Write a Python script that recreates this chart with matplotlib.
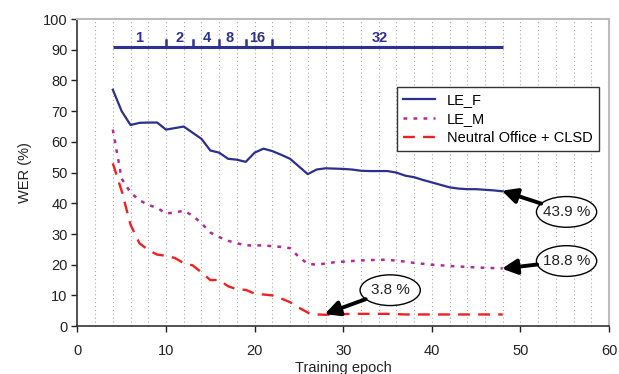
import matplotlib
matplotlib.use("Agg")
import matplotlib.pyplot as plt
from matplotlib.patches import Ellipse
import numpy as np

plt.rcParams['font.family'] = ['Liberation Sans', 'DejaVu Sans']

epochs = list(range(4, 49))
le_f = [77, 70, 65.5, 66.2, 66.3, 66.3, 64, 64.5, 65, 63, 61, 57.2, 56.5, 54.5, 54.2,
        53.5, 56.5, 57.8, 57, 55.8, 54.5, 52, 49.5, 51, 51.4, 51.3, 51.2, 51, 50.6,
        50.5, 50.5, 50.5, 50, 49, 48.5, 47.6, 46.8, 46, 45.2, 44.8, 44.6, 44.6, 44.4,
        44.2, 43.9]
le_m = [64, 48, 43.5, 41, 39.5, 38.5, 36.7, 37, 37.6, 36, 33.5, 30.5, 29, 27.8, 27,
        26.3, 26.3, 26.3, 26, 25.8, 25.4, 22.5, 20.3, 20, 20.4, 20.8, 21, 21.2, 21.4,
        21.5, 21.6, 21.6, 21.3, 21, 20.6, 20.3, 20, 19.8, 19.6, 19.4, 19.3, 19.1, 19,
        18.9, 18.8]
neutral = [53, 44, 33, 27, 24.8, 23.3, 22.9, 22.2, 20.5, 19.8, 17.5, 15, 15, 13, 12,
           11.8, 10.6, 10.3, 10, 9, 7.8, 6, 4.4, 3.8, 3.7, 3.8, 3.9, 4, 4, 4, 4, 4,
           3.9, 3.8, 3.8, 3.8, 3.8, 3.8, 3.8, 3.8, 3.8, 3.8, 3.8, 3.8, 3.8]

series_labels = ["LE_F", "LE_M", "Neutral Office + CLSD"]

# top bar: batch-size stages
bar_start, bar_end, bar_level = 4, 48, 91
stage_ticks = [10, 13, 16, 19, 22]
stage_label_x = [7, 11.5, 14.6, 17.2, 20.3, 34.1]
stage_labels = ["1", "2", "4", "8", "16", "32"]

# annotations: (text, text_x, text_y, point_x, point_y)
annotations = [("43.9 %", 55.2, 37.2, 47.9, 44.1),
               ("18.8 %", 55.2, 21.2, 47.9, 18.7),
               ("3.8 %", 35.3, 11.7, 27.9, 3.9)]

blue = "#2B2F8F"
magenta = "#B5289A"
red = "#F02020"

fig = plt.figure(figsize=(6.19, 3.74), dpi=100)
ax = fig.add_axes([0.125, 0.128, 0.859, 0.821])

# grid lines (vertical dotted every 2)
for gx in np.arange(2, 60, 2):
    ax.axvline(gx, color="#AAAAAA", lw=0.8, ls=(0, (1, 2.5)), zorder=0)

ax.plot(epochs, le_f, color=blue, lw=1.6, label=series_labels[0], zorder=3)
ax.plot(epochs, le_m, color=magenta, lw=1.8, ls=(0, (1.5, 2.5)), label=series_labels[1], zorder=3)
ax.plot(epochs, neutral, color=red, lw=1.7, ls=(0, (5, 3.5)), label=series_labels[2], zorder=3)

# top bar
ax.plot([bar_start, bar_end], [bar_level, bar_level], color="#2E3192", lw=2.2, zorder=3,
        solid_capstyle='butt')
for t in stage_ticks:
    ax.plot([t, t], [bar_level, bar_level + 2.2], color="#2E3192", lw=1.8, zorder=3)
for lx, lt in zip(stage_label_x, stage_labels):
    ax.text(lx, bar_level + 0.6, lt, color="#2E3192", fontsize=10.5, fontweight='bold',
            ha='center', va='bottom', zorder=4)

# annotations with ellipses
for txt, tx, ty, px, py in annotations:
    w = 6.8
    h = 10
    ell = Ellipse((tx, ty), w, h, facecolor='white', edgecolor='black', lw=1.0, zorder=5)
    ax.add_patch(ell)
    ax.text(tx, ty, txt, fontsize=11, ha='center', va='center', color="#222222", zorder=6)
    ang = np.arctan2((py - ty) / h, (px - tx) / w)
    sx = tx + (w / 2) * np.cos(ang)
    sy = ty + (h / 2) * np.sin(ang)
    ax.annotate("", xy=(px, py), xytext=(sx, sy),
                arrowprops=dict(arrowstyle="-|>,head_length=0.9,head_width=0.45",
                                color='black', lw=2.8, shrinkA=0, shrinkB=0), zorder=6)

ax.set_xlim(0, 60)
ax.set_ylim(0, 100)
ax.set_xticks(range(0, 61, 10))
ax.set_yticks(range(0, 101, 10))
ax.tick_params(axis='both', direction='out', length=4, width=1, labelsize=10.5,
               colors='#222222', pad=3)
ax.tick_params(axis='x', pad=9)
for s in ['left', 'bottom']:
    ax.spines[s].set_color('#333333')
    ax.spines[s].set_linewidth(1.2)
for s in ['top', 'right']:
    ax.spines[s].set_color('#BBBBBB')
    ax.spines[s].set_linewidth(1.5)

ax.set_xlabel("Training epoch", fontsize=10.5, color='#222222', labelpad=2)
ax.set_ylabel("WER (%)", fontsize=10.5, color='#222222', labelpad=8)

leg = ax.legend(loc='upper left', bbox_to_anchor=(0.602, 0.778), fontsize=10.5,
                frameon=True, fancybox=False, edgecolor='#333333', framealpha=1,
                handlelength=2.2, borderpad=0.4, labelspacing=0.35, borderaxespad=0)
leg.get_frame().set_linewidth(1.0)
leg.set_zorder(4)

fig.savefig("out.png", dpi=100)
